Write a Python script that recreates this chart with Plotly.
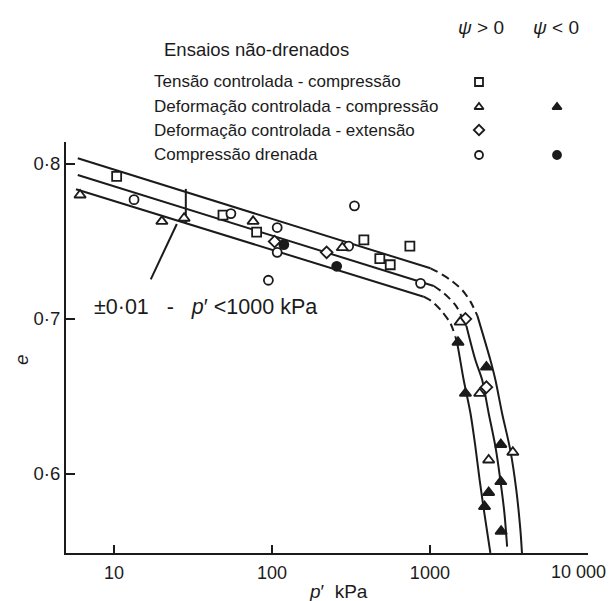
import numpy as np
import plotly.graph_objects as go

# ---------------- data ----------------
# Ensaios não-drenados, tensão controlada - compressão (psi > 0)
sq_p = [10.4, 49, 80, 382, 482, 561, 747]
sq_e = [0.792, 0.767, 0.756, 0.751, 0.739, 0.735, 0.747]

# Deformação controlada - compressão (psi > 0)
tri_p = [6.1, 20.1, 27.8, 76, 279, 1555, 2068, 2356, 3350]
tri_e = [0.780, 0.763, 0.765, 0.763, 0.746, 0.698, 0.652, 0.609, 0.614]

# Deformação controlada - compressão (psi < 0)
tri_neg_p = [1507, 2280, 1679, 2812, 2812, 2356, 2218, 2825]
tri_neg_e = [0.685, 0.669, 0.652, 0.619, 0.595, 0.588, 0.579, 0.563]

# Deformação controlada - extensão (psi > 0)
dia_p = [104, 222, 1679, 2280]
dia_e = [0.750, 0.743, 0.700, 0.656]

# Compressão drenada (psi > 0)
circ_p = [13.4, 55, 108, 108, 95, 306, 333, 873]
circ_e = [0.777, 0.768, 0.759, 0.743, 0.725, 0.747, 0.773, 0.723]

# Compressão drenada (psi < 0)
circ_neg_p = [119, 257]
circ_neg_e = [0.748, 0.734]

# Band of the steady-state line: upper, centre and lower curves.
# Each curve: straight solid part, dashed bend, steep solid part.
upper_line_p = [5.9, 1009]
upper_line_e = [0.8037, 0.7327]
upper_bend_p = [1009, 1112, 1349, 1600, 1807, 2000]
upper_bend_e = [0.7327, 0.7305, 0.7252, 0.7187, 0.7112, 0.7020]
upper_steep_p = [2000, 2415, 2600, 2864, 3228, 3524, 3741, 3828]
upper_steep_e = [0.7020, 0.6735, 0.6606, 0.6392, 0.6155, 0.5897, 0.5639, 0.549]

centre_line_p = [5.9, 1059]
centre_line_e = [0.7929, 0.7213]
centre_bend_p = [1059, 1219, 1452, 1607, 1703]
centre_bend_e = [0.7213, 0.7168, 0.7090, 0.7006, 0.6955]
centre_steep_p = [1703, 1941, 2143, 2356, 2600, 2793, 2965, 3083]
centre_steep_e = [0.6955, 0.6735, 0.6606, 0.6392, 0.6176, 0.5961, 0.5746, 0.5531]

lower_line_p = [5.75, 914]
lower_line_e = [0.7837, 0.7144]
lower_bend_p = [914, 1035, 1197, 1349, 1452]
lower_bend_e = [0.7144, 0.7112, 0.7047, 0.6972, 0.6886]
lower_steep_p = [1452, 1489, 1637, 1807, 1941, 2066, 2213, 2415]
lower_steep_e = [0.6886, 0.6843, 0.6606, 0.6392, 0.6176, 0.5961, 0.5746, 0.549]

# +-0.01 band marker and its leader
band_mark_p = 28.5
leader_p = [17.1, 25.0]
leader_e = [0.7256, 0.7613]

# axis ticks (the last label sits at the right edge and is set separately)
x_ticks = [10, 100, 1000, 10000]
x_ticktext = ["10", "100", "1000", ""]
x_last_label = "10 000"
y_ticks = [0.6, 0.7, 0.8]
y_ticktext = ["0·6", "0·7", "0·8"]

# legend rows: label, symbol for psi>0, symbol for psi<0 (None if absent)
legend_rows = [
    ("Tensão controlada - compressão", "square", None),
    ("Deformação controlada - compressão", "triangle-up", "triangle-up"),
    ("Deformação controlada - extensão", "diamond", None),
    ("Compressão drenada", "circle", "circle"),
]

# ---------------- styling ----------------
INK = "#1b1b1b"
FONT = "Liberation Sans, Arial, sans-serif"
W, H = 614, 601
L, R, T, B = 66, 26, 142, 48
PW, PH = W - L - R, H - T - B
FULL_H = H - B          # height of the drawing region (top margin is 0)


def px(x):
    return (x - L) / PW


def py(y):
    return (FULL_H - y) / FULL_H


fig = go.Figure()


def add_curve(p, e, dash=None, spline=False):
    fig.add_trace(go.Scatter(
        x=p, y=e, mode="lines",
        line=dict(color=INK, width=2, dash=dash,
                  shape="spline" if spline else "linear", smoothing=0.8),
        hoverinfo="skip", cliponaxis=False))


for line_p, line_e, bend_p, bend_e, steep_p, steep_e in [
    (upper_line_p, upper_line_e, upper_bend_p, upper_bend_e, upper_steep_p, upper_steep_e),
    (centre_line_p, centre_line_e, centre_bend_p, centre_bend_e, centre_steep_p, centre_steep_e),
    (lower_line_p, lower_line_e, lower_bend_p, lower_bend_e, lower_steep_p, lower_steep_e),
]:
    add_curve(line_p, line_e)
    add_curve(bend_p, bend_e, dash="8px,5px", spline=True)
    add_curve(steep_p, steep_e, spline=True)

# vertical bar across the band at band_mark_p
lp = np.log10(band_mark_p)
e_top = np.interp(lp, np.log10(upper_line_p), upper_line_e)
e_bot = np.interp(lp, np.log10(lower_line_p), lower_line_e)
add_curve([band_mark_p, band_mark_p], [e_top + 0.002, e_bot])
add_curve(leader_p, leader_e)


def add_points(p, e, symbol, filled):
    fig.add_trace(go.Scatter(
        x=p, y=e, mode="markers",
        marker=dict(symbol=symbol, size=9 if symbol != "triangle-up" else 10,
                    color=INK if filled else "white",
                    line=dict(color=INK, width=1.8)),
        hoverinfo="skip", cliponaxis=False))


add_points(sq_p, sq_e, "square", False)
add_points(circ_p, circ_e, "circle", False)
add_points(dia_p, dia_e, "diamond", False)
add_points(circ_neg_p, circ_neg_e, "circle", True)
add_points(tri_p, tri_e, "triangle-up", False)
add_points(tri_neg_p, tri_neg_e, "triangle-up", True)

# legend symbols, placed on a pixel-based overlay frame covering the page
col_pos, col_neg = 479, 557
row_y = [82, 107, 130, 155]
for (label, sym_pos, sym_neg), yy in zip(legend_rows, row_y):
    for sym, xx, filled in [(sym_pos, col_pos, False), (sym_neg, col_neg, True)]:
        if sym is None:
            continue
        fig.add_trace(go.Scatter(
            x=[xx], y=[yy], xaxis="x2", yaxis="y2", mode="markers",
            marker=dict(symbol=sym, size=8,
                        color=INK if filled else "white",
                        line=dict(color=INK, width=1.8)),
            hoverinfo="skip", cliponaxis=False))

annotations = []


def note(text, x, y, size, xanchor="left", angle=0):
    annotations.append(dict(
        text=text, x=px(x), y=py(y), xref="paper", yref="paper",
        xanchor=xanchor, yanchor="middle", showarrow=False,
        textangle=angle, font=dict(family=FONT, size=size, color=INK)))


note("<i>ψ</i> &gt; 0", 481, 27, 19, "center")
note("<i>ψ</i> &lt; 0", 556, 27, 19, "center")
note("Ensaios não-drenados", 162, 50, 18.5)
for (label, _, _), yy in zip(legend_rows, row_y):
    note(label, 152, yy, 17)
note("±0·01\u00a0\u00a0\u00a0-\u00a0\u00a0\u00a0<i>p</i>′ &lt;1000 kPa", 92, 307, 21.5)
note("<i>p</i>′\u00a0\u00a0kPa", 338, 591, 19, "center")
note("<i>e</i>", 21, 360, 19, "center", angle=-90)
note(x_last_label, 608, 572, 18, "right")

fig.update_layout(
    width=W, height=H,
    margin=dict(l=L, r=R, t=0, b=B, pad=0, autoexpand=False),
    plot_bgcolor="rgba(0,0,0,0)", paper_bgcolor="white",
    showlegend=False,
    font=dict(family=FONT, color=INK),
    annotations=annotations,
    xaxis=dict(
        type="log", range=[np.log10(4.97), 4.001],
        tickvals=x_ticks, ticktext=x_ticktext,
        ticks="inside", ticklen=8, tickwidth=1.5, tickcolor=INK,
        showline=True, linewidth=2, linecolor=INK,
        showgrid=False, zeroline=False, automargin=False,
        tickfont=dict(size=18, family=FONT, color=INK),
        ticklabelstandoff=2,
    ),
    yaxis=dict(
        domain=[0, PH / FULL_H],
        range=[0.549, 0.8142],
        tickvals=y_ticks, ticktext=y_ticktext,
        ticks="inside", ticklen=9, tickwidth=1.5, tickcolor=INK,
        showline=True, linewidth=2, linecolor=INK,
        showgrid=False, zeroline=False, automargin=False,
        tickfont=dict(size=18.5, family=FONT, color=INK),
    ),
    xaxis2=dict(overlaying="x", anchor="y2", range=[L, L + PW], visible=False,
                automargin=False),
    yaxis2=dict(domain=[0, 1], anchor="x2", range=[FULL_H, 0], visible=False,
                automargin=False),
)

fig.write_html("out.html")
